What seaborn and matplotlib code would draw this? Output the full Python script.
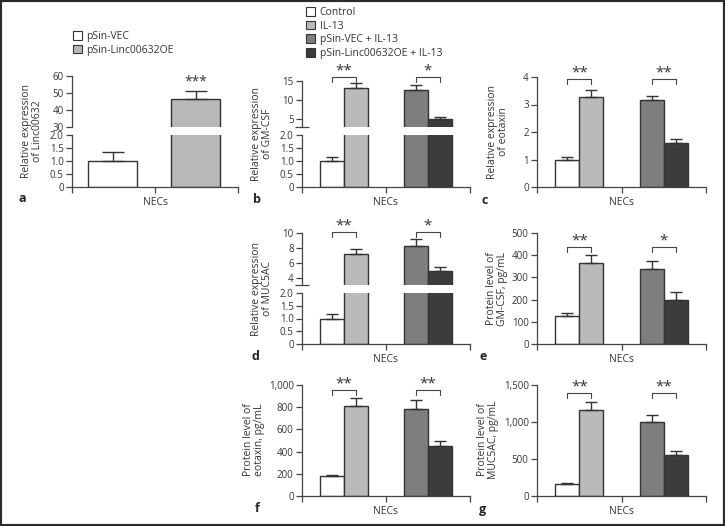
import numpy as np
import pandas as pd
import matplotlib
matplotlib.use('Agg')
import matplotlib.pyplot as plt
import seaborn as sns
from matplotlib.patches import Patch, Rectangle

sns.set_style('ticks')
plt.rcParams['font.family'] = ['Open Sans', 'DejaVu Sans']

# ---- data ----
groups_a = ['pSin-VEC', 'pSin-Linc00632OE']
linc_mean = [1.0, 46.5]
linc_top = [1.33, 51.2]

groups = ['Control', 'IL-13', 'pSin-VEC + IL-13', 'pSin-Linc00632OE + IL-13']
gmcsf_rel = [1.0, 13.2, 12.6, 5.1]
gmcsf_rel_top = [1.17, 14.4, 13.9, 5.7]
eotaxin_rel = [1.0, 3.27, 3.15, 1.6]
eotaxin_rel_top = [1.09, 3.52, 3.31, 1.73]
muc5ac_rel = [1.0, 7.2, 8.2, 4.93]
muc5ac_rel_top = [1.17, 7.87, 9.2, 5.4]
gmcsf_prot = [127, 364, 338, 196]
gmcsf_prot_top = [139, 402, 374, 236]
eotaxin_prot = [181, 813, 780, 446]
eotaxin_prot_top = [193, 880, 864, 497]
muc5ac_prot = [160, 1165, 995, 555]
muc5ac_prot_top = [172, 1275, 1095, 603]

pos4 = [1.25, 2.25, 4.75, 5.75]
pos2 = [0.83, 2.53]

EDGE = '#333333'
TXT = '#333333'
pal4 = dict(zip(groups, ['#ffffff', '#bababc', '#7e7e81', '#3c3c3e']))
pal2 = dict(zip(groups_a, ['#ffffff', '#b8b8ba']))

W, H = 725, 526
fig = plt.figure(figsize=(W / 100, H / 100), dpi=100)


def box(x0, x1, ytop, ybot):
    return [x0 / W, 1 - ybot / H, (x1 - x0) / W, (ybot - ytop) / H]


def style(ax, xaxis=True):
    sns.despine(ax=ax)
    for s in ['left', 'bottom']:
        ax.spines[s].set_color('#444444')
        ax.spines[s].set_linewidth(0.9)
    ax.tick_params(axis='both', colors='#444444', labelcolor=TXT, labelsize=7,
                   length=4, width=0.9, pad=2)
    ax.set_xlabel('')
    ax.set_ylabel('')
    if not xaxis:
        ax.spines['bottom'].set_visible(False)
        ax.tick_params(axis='x', bottom=False, labelbottom=False)


def bars(ax, pos, vals, tops, names, pal, width, cap):
    df = pd.DataFrame({'pos': pos, 'val': vals, 'grp': names})
    sns.barplot(data=df, x='pos', y='val', hue='grp', palette=pal, native_scale=True,
                width=width, dodge=False, edgecolor=EDGE, linewidth=1.0,
                legend=False, errorbar=None, ax=ax)
    err = np.array(tops) - np.array(vals)
    ax.errorbar(pos, vals, yerr=[np.zeros(len(vals)), err], fmt='none', ecolor=EDGE,
                elinewidth=1.0, capsize=cap, capthick=1.0, zorder=1)


def set_x(ax, xmax):
    ax.set_xlim(0, xmax)
    ax.set_xticks([0, xmax / 2, xmax], ['', 'NECs', ''])
    ax.tick_params(axis='x', labelsize=7.5, pad=3)


def bracket(ax, x1, x2, y, stars, hpx):
    lo, hi = ax.get_ylim()
    drop = 5 * (hi - lo) / hpx
    ax.plot([x1, x1, x2, x2], [y - drop, y, y, y - drop], color='#444444', lw=0.8,
            clip_on=False)
    ax.annotate(stars, ((x1 + x2) / 2, y), xytext=(0, -1), textcoords='offset points',
                ha='center', va='bottom', fontsize=11, color=TXT, annotation_clip=False)


def ylab(text, xaxis_px, ymid_px, off):
    fig.text((xaxis_px - off) / W, 1 - ymid_px / H, text, rotation=90, ha='center',
             va='center', fontsize=7.5, color=TXT, linespacing=1.1)


def letter(ch, x, y):
    fig.text(x / W, 1 - y / H, ch, ha='center', va='center', fontsize=9,
             fontweight='bold', color='#222222')


def broken(x0, x1, top_rng, bot_rng, top_lim, top_ticks, top_labels, vals, tops, names,
           pal, pos, width, cap, xmax):
    ax_t = fig.add_axes(box(x0, x1, *top_rng))
    ax_b = fig.add_axes(box(x0, x1, *bot_rng))
    for ax in (ax_t, ax_b):
        bars(ax, pos, vals, tops, names, pal, width, cap)
    ax_t.set_ylim(*top_lim)
    ax_t.set_yticks(top_ticks, top_labels)
    ax_t.set_yticks([top_lim[0]], minor=True)
    ax_b.set_ylim(0, 2)
    ax_b.set_yticks([0, 0.5, 1.0, 1.5, 2.0], ['0', '0.5', '1.0', '1.5', '2.0'])
    ax_b.set_yticks([2.0], minor=True)
    style(ax_t, xaxis=False)
    style(ax_b)
    for ax in (ax_t, ax_b):
        ax.tick_params(axis='y', which='minor', direction='inout', length=10, width=0.9,
                       colors='#444444')
        ax.set_xlim(0, xmax)
    ax_t.tick_params(axis='x', which='both', bottom=False, labelbottom=False)
    set_x(ax_b, xmax)
    return ax_t, ax_b


def single(x0, x1, ytop, ybot, vals, tops, lim, ticks, labels):
    ax = fig.add_axes(box(x0, x1, ytop, ybot))
    bars(ax, pos4, vals, tops, groups, pal4, 1.0, 4)
    ax.set_ylim(*lim)
    ax.set_yticks(ticks, labels)
    style(ax)
    set_x(ax, 7)
    return ax


# ---- panel a ----
ta, ba = broken(72, 238, (76, 127), (135, 187), (30, 60), [30, 40, 50, 60],
                ['30', '40', '50', '60'], linc_mean, linc_top, groups_a, pal2, pos2,
                1 / 1.70, 8, 3.39)
ta.annotate('***', (pos2[1], linc_top[1]), xytext=(0, 1), textcoords='offset points',
            ha='center', va='bottom', fontsize=10, color=TXT, annotation_clip=False)
ylab('Relative expression\nof Linc00632', 72, 131, 40)
letter('a', 22, 198)

# ---- panel b ----
tb, bb = broken(302, 470, (81, 127), (135, 187), (3, 15), [5, 10, 15],
                ['5', '10', '15'], gmcsf_rel, gmcsf_rel_top, groups, pal4, pos4,
                1.0, 4, 7)
bracket(tb, pos4[0], pos4[1], 16.0, '**', 46)
bracket(tb, pos4[2], pos4[3], 16.0, '*', 46)
ylab('Relative expression\nof GM-CSF', 302, 134, 40)
letter('b', 257, 199)

# ---- panel c ----
ac = single(537, 706, 77, 187, eotaxin_rel, eotaxin_rel_top, (0, 4), [0, 1, 2, 3, 4],
            ['0', '1', '2', '3', '4'])
bracket(ac, pos4[0], pos4[1], 3.93, '**', 110)
bracket(ac, pos4[2], pos4[3], 3.93, '**', 110)
ylab('Relative expression\nof eotaxin', 537, 132, 39)
letter('c', 485, 201)

# ---- panel d ----
td, bd = broken(302, 470, (233, 285), (293, 344), (3, 10), [4, 6, 8, 10],
                ['4', '6', '8', '10'], muc5ac_rel, muc5ac_rel_top, groups, pal4, pos4,
                1.0, 4, 7)
bracket(td, pos4[0], pos4[1], 10.1, '**', 52)
bracket(td, pos4[2], pos4[3], 10.1, '*', 52)
ylab('Relative expression\nof MUC5AC', 302, 289, 40)
letter('d', 255, 357)

# ---- panel e ----
ae = single(537, 706, 233, 344, gmcsf_prot, gmcsf_prot_top, (0, 500),
            [0, 100, 200, 300, 400, 500], ['0', '100', '200', '300', '400', '500'])
bracket(ae, pos4[0], pos4[1], 437, '**', 111)
bracket(ae, pos4[2], pos4[3], 437, '*', 111)
ylab('Protein level of\nGM-CSF, pg/mL', 537, 289, 40)
letter('e', 483, 357)

# ---- panel f ----
af = single(302, 470, 385, 496, eotaxin_prot, eotaxin_prot_top, (0, 1000),
            [0, 200, 400, 600, 800, 1000], ['0', '200', '400', '600', '800', '1,000'])
bracket(af, pos4[0], pos4[1], 955, '**', 111)
bracket(af, pos4[2], pos4[3], 955, '**', 111)
ylab('Protein level of\neotaxin, pg/mL', 302, 440, 48)
letter('f', 257, 509)

# ---- panel g ----
ag = single(537, 706, 385, 496, muc5ac_prot, muc5ac_prot_top, (0, 1500),
            [0, 500, 1000, 1500], ['0', '500', '1,000', '1,500'])
bracket(ag, pos4[0], pos4[1], 1390, '**', 111)
bracket(ag, pos4[2], pos4[3], 1390, '**', 111)
ylab('Protein level of\nMUC5AC, pg/mL', 537, 440, 49)
letter('g', 482, 509)

# ---- legends ----
h2 = [Patch(facecolor=pal2[g], edgecolor=EDGE, linewidth=0.8) for g in groups_a]
fig.legend(h2, groups_a, loc='upper left', bbox_to_anchor=(73 / W, 1 - 31 / H),
           frameon=False, fontsize=7.5, handlelength=0.9, handleheight=0.9,
           handletextpad=0.4, labelspacing=0.25, borderpad=0, borderaxespad=0,
           labelcolor=TXT)
h4 = [Patch(facecolor=pal4[g], edgecolor=EDGE, linewidth=0.8) for g in groups]
fig.legend(h4, groups, loc='upper left', bbox_to_anchor=(306 / W, 1 - 7 / H),
           frameon=False, fontsize=7.5, handlelength=0.9, handleheight=0.9,
           handletextpad=0.4, labelspacing=0.25, borderpad=0, borderaxespad=0,
           labelcolor=TXT)

# outer frame
fig.patches.append(Rectangle((0, 0), 1, 1, transform=fig.transFigure, fill=False,
                             edgecolor='#2b2b2b', linewidth=3))

fig.savefig('out.png', dpi=100)
